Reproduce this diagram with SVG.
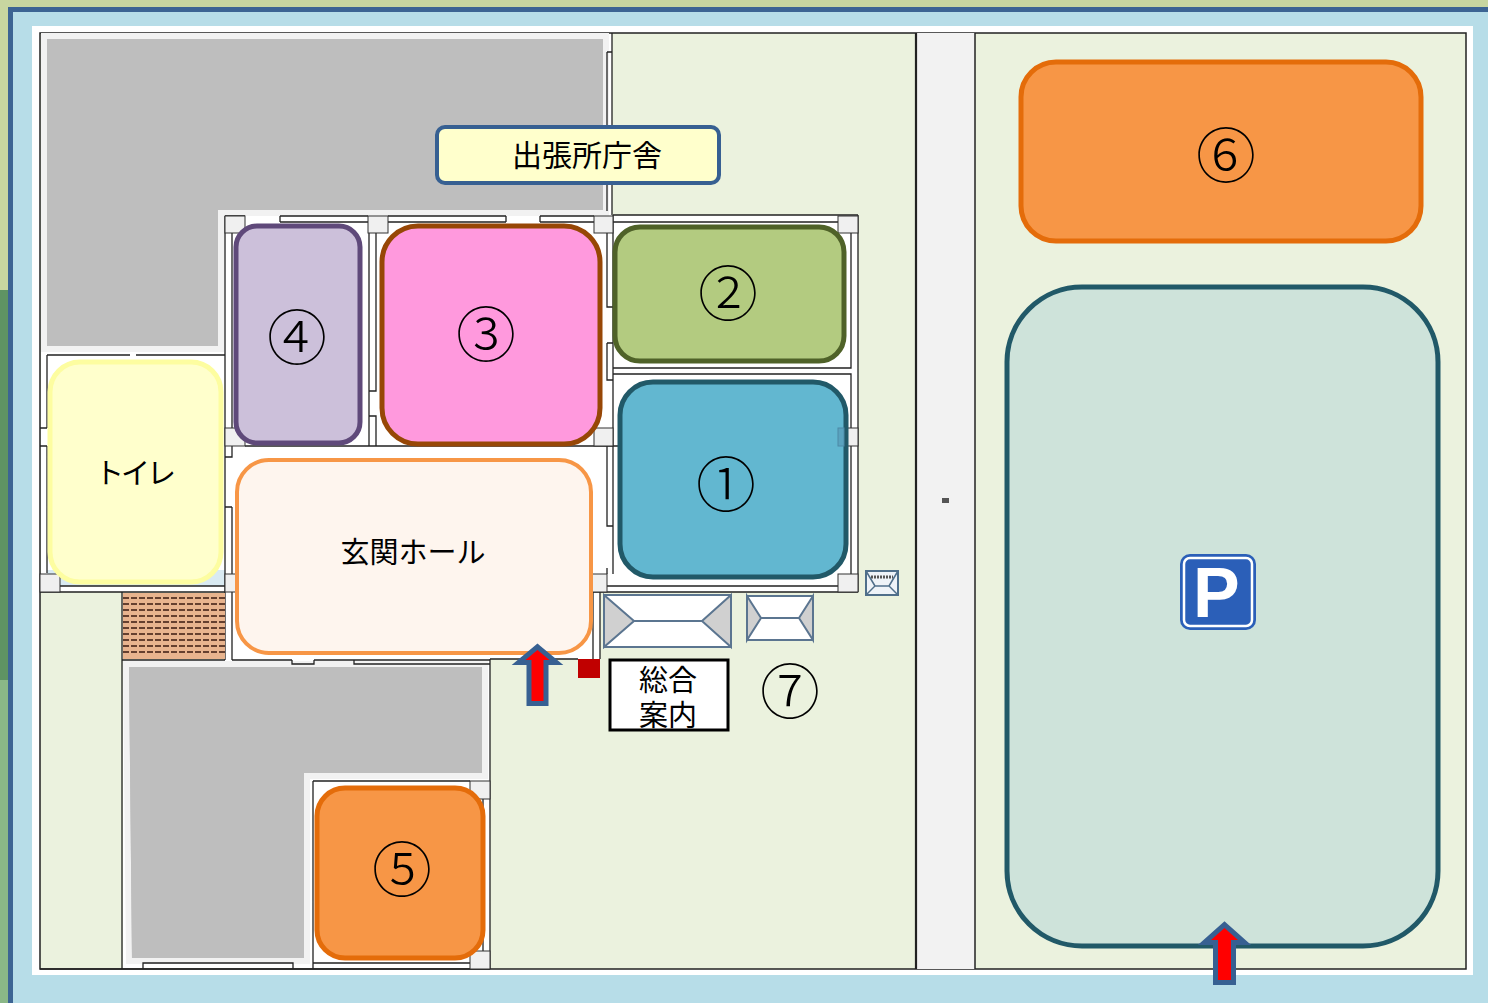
<svg xmlns="http://www.w3.org/2000/svg" width="1488" height="1003" viewBox="0 0 1488 1003">
<style>
.t{font-family:"Noto Sans CJK JP","Noto Sans",sans-serif;fill:#000;text-anchor:middle}
.n{font-size:60px;font-weight:300}.l{font-size:29px}
.w{fill:none;stroke:#222;stroke-width:1.300}
.c{fill:#f0f0f0;stroke:#333;stroke-width:1}
.g{fill:#bebebe;stroke:#f2f2f2;stroke-width:6;stroke-linejoin:miter}
.roof{fill:#fff;stroke:#5b7590;stroke-width:2}
.tri{fill:#d0d0d0;stroke:#5b7590;stroke-width:2}
.a{fill:#f00;stroke:#376092;stroke-width:10;paint-order:stroke;stroke-miterlimit:6}
</style>
<rect width="1488" height="1003" fill="#c8d6a0"/>
<rect x="0" y="290" width="8" height="390" fill="#5f9363"/>
<rect x="0" y="680" width="8" height="323" fill="#8ab787"/>
<rect x="10.500" y="9.500" width="1490" height="1000" fill="#b7dde8" stroke="#3c6493" stroke-width="5"/>
<rect x="32" y="26" width="1441" height="949" fill="#fff"/>
<g id="site">
<rect x="40" y="33" width="1426" height="936" fill="#ebf2de" stroke="#222" stroke-width="1.500"/>
<rect x="916" y="33" width="59" height="936" fill="#f2f2f2"/>
<path d="M916 33V969" stroke="#222" stroke-width="2.200"/><path d="M975 33V969" stroke="#222" stroke-width="1.500"/>
<path d="M41 34H612V215H858V592H600V659H490V968H123V660H225V592H41Z" fill="#fff"/>
<path class="g" d="M44 36H606V213H221V349H44Z"/>
<path d="M47 39H603V210H218V346H47Z" fill="#bebebe"/>
<path class="g" d="M126 664H485V776H307V961H129Z"/>
<path d="M129 667H482V773H304V958H132Z" fill="#bebebe"/>
<rect x="47" y="570" width="178" height="16" fill="#d9eaf2"/>
<g id="walls">
<path class="w" d="M612 33V52M607 52H612V215M607 52V211M47 355H130M136 355H225V586M47 355V428M47 446V573M40 428H47M40 446H47M60 586H225M40 592H225M225 216V428M232 233V428M225 446V592M232 446V457H225M232 507V574M225 507H232"/>
<path class="w" d="M225 216H245M280 216H368M280 222H368M280 216V222M388 216H506M388 222H506M506 216V222M540 216H594M540 222H594M540 216V222"/>
<path class="w" d="M369 233V446M376 233V391H369M369 416H376V446"/>
<path class="w" d="M245 446H838M607 233V307H613M607 343H613M607 343V380H613M607 446V526H613M607 568V574M613 215V574M613 215H858M613 222H851M851 233V361M613 368H851V361M613 374H851V428M851 446V575M858 215V592M607 586H838M580 592H858M593 592V659M600 592V659"/>
<path class="w" d="M122 592V969M225 592V660M232 592V660M122 660H225M292 660V664H314V660M232 660H292M314 660H490M354 660V664H490"/>
<path class="w" d="M490 659V969M313 781V969M313 781H470M313 963H470M483 799V951M470 829H483M470 902H483M143 969V963H293V969M40 969H490M578 659H490"/>
<rect class="c" x="225" y="216" width="20" height="17"/><rect class="c" x="368" y="216" width="20" height="17"/><rect class="c" x="594" y="216" width="19" height="17"/><rect class="c" x="838" y="216" width="20" height="17"/>
<rect class="c" x="225" y="428" width="20" height="18"/><rect class="c" x="594" y="428" width="19" height="18"/><rect class="c" x="838" y="428" width="20" height="18"/>
<rect class="c" x="40" y="574" width="20" height="18"/><rect class="c" x="225" y="574" width="20" height="18"/><rect class="c" x="580" y="574" width="27" height="18"/><rect class="c" x="838" y="574" width="20" height="18"/>
<rect class="c" x="470" y="781" width="20" height="18"/><rect class="c" x="470" y="951" width="20" height="18"/>
</g>
</g>
<rect x="123" y="593" width="102" height="66" fill="#e8b48e"/>
<path d="M123 598H225M123 604H225M123 610H225M123 616H225M123 622H225M123 628H225M123 634H225M123 640H225M123 646H225M123 652H225" stroke="#3a1a10" stroke-width="1.500" stroke-dasharray="6 2" fill="none"/>
<g id="roofs">
<rect class="roof" x="604" y="595" width="127" height="52"/><path class="tri" d="M604 595L634 621L604 647Z"/><path class="tri" d="M731 595L702 621L731 647Z"/><path class="roof" d="M634 621H702"/>
<rect class="roof" x="747" y="596" width="66" height="44"/><path class="tri" d="M747 596L761 618L747 640Z"/><path class="tri" d="M813 596L799 618L813 640Z"/><path class="roof" d="M761 618H799"/>
<rect x="866" y="571" width="32" height="24" fill="#eef3f8" stroke="#4f6f8a" stroke-width="2"/><path d="M866 571L875 586L866 595M898 571L889 586L898 595M875 586H889" fill="none" stroke="#4f6f8a" stroke-width="1.500"/>
<path d="M871 577H893" stroke="#555" stroke-width="3" stroke-dasharray="2 1"/>
</g>
<rect x="942" y="498" width="7" height="5" fill="#555"/>
<g id="n6"><rect x="1021" y="62" width="400" height="179" rx="35" fill="#f79646" stroke="#e46c0a" stroke-width="5"/><text class="t n" x="1226" y="178">⑥</text></g>
<g id="parking"><rect x="1007" y="287" width="431" height="659" rx="75" fill="#cee3da" stroke="#215968" stroke-width="5"/>
<rect x="1180" y="554" width="76" height="76" rx="10" fill="#2b5fb8"/><rect x="1184" y="558" width="68" height="68" rx="6" fill="none" stroke="#fff" stroke-width="2.500"/><text x="1193" y="617" font-family="'Liberation Sans',sans-serif" font-weight="700" font-size="70" fill="#fff">P</text></g>
<g id="n2"><rect x="615" y="227" width="229" height="134" rx="25" fill="#b3cb80" stroke="#4f6228" stroke-width="5"/><text class="t n" x="728" y="316">②</text></g>
<g id="n1"><rect x="620" y="382" width="226" height="195" rx="33" fill="#62b7d0" stroke="#215968" stroke-width="5"/><rect x="838" y="428" width="6" height="18" fill="#5aa3bf" stroke="#4d8aa6"/><text class="t n" x="726" y="507">①</text></g>
<g id="n3"><rect x="382" y="226" width="218" height="218" rx="36" fill="#ff99dd" stroke="#974706" stroke-width="5"/><text class="t n" x="486" y="357">③</text></g>
<g id="n4"><rect x="236" y="226" width="124" height="217" rx="21" fill="#ccc0da" stroke="#5f497a" stroke-width="5"/><text class="t n" x="297" y="360">④</text></g>
<g id="toilet"><rect x="50" y="362" width="171" height="220" rx="30" fill="#ffffcc" stroke="#fdfda0" stroke-width="5"/><text class="t l" x="134" y="484" letter-spacing="-3">トイレ</text></g>
<g id="hall"><rect x="237" y="460" width="354" height="193" rx="32" fill="#fef5ee" stroke="#f79646" stroke-width="4"/><text class="t l" x="413" y="563">玄関ホール</text></g>
<g id="n5"><rect x="317" y="788" width="166" height="170" rx="28" fill="#f79646" stroke="#e46c0a" stroke-width="5"/><text class="t n" x="402" y="892">⑤</text></g>
<g id="office"><rect x="437" y="127" width="282" height="56" rx="8" fill="#ffffcc" stroke="#376092" stroke-width="4"/><text class="t" font-size="30" x="587" y="166">出張所庁舎</text></g>
<rect x="578" y="659" width="22" height="19" fill="#c00000"/>
<g id="info"><rect x="610" y="660" width="118" height="70" fill="#fff" stroke="#000" stroke-width="3"/><text class="t l" x="668" y="691">総合</text><text class="t l" x="668" y="726">案内</text></g>
<text class="t n" x="790" y="714">⑦</text>
<g id="connectors">
<path class="a" d="M537.500 650L549.500 660H543.500V701H531.500V660H525.500Z"/>
<path class="a" d="M1224.500 928L1238 940H1231V980H1218V940H1211Z"/>
</g>
</svg>
